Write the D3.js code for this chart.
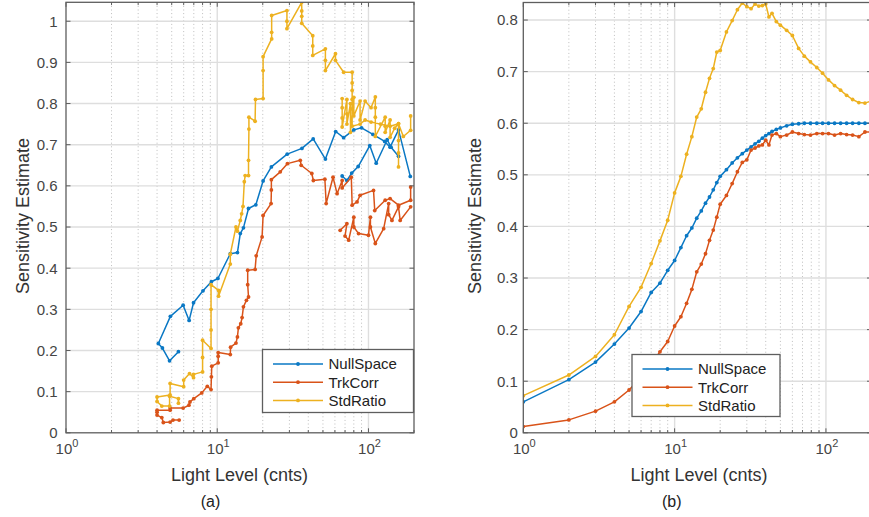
<!DOCTYPE html>
<html>
<head>
<meta charset="utf-8">
<script src="https://cdn.jsdelivr.net/npm/d3@7"></script>
<style>
  body { margin: 0; background: #fff; }
  svg { display: block; }
  text { font-family: "Liberation Sans", Arial, Helvetica, sans-serif; }
</style>
</head>
<body>
<svg id="chart" width="869" height="517"></svg>
<script>
// ---- Series names and colours ----
const seriesNames = ["NullSpace", "TrkCorr", "StdRatio"];
const seriesColors = ["#0a78c4", "#D95319", "#EDB120"];

// ---- Panel (a): measured estimates, [light level, estimate]; null breaks a run ----
const nullSpaceA = [
  [5.54,0.197],[4.84,0.175],[4.34,0.206],[4.08,0.217],[4.9,0.283],[5.95,0.310],[6.52,0.273],
  [6.97,0.316],[8.05,0.345],[9.15,0.367],[10.1,0.375],[12.2,0.435],[13.6,0.438],[14.2,0.484],
  [14.9,0.498],[16.1,0.545],[18.0,0.554],[20.1,0.612],[22.8,0.646],[29.0,0.677],[36.3,0.691],
  [43.1,0.714],[51.9,0.665],[60.7,0.732],[68.5,0.717],[80,0.736],[90,0.741],[107,0.725],
  [128,0.708],[139,0.694],[158,0.736],[189,0.623],
  null,
  [67,0.624],[72,0.613],[77.5,0.631],[85.5,0.647],[102,0.698],[112.5,0.655],[133,0.712],
  [141,0.694],[158,0.672]
];
const trkCorrA = [
  [5.6,0.031],[5.1,0.031],[4.88,0.026],[4.4,0.025],[4.3,0.037],[4.0,0.043],[4.0,0.05],[4.0,0.055],
  [4.88,0.055],[4.88,0.06],[5.95,0.06],[6.5,0.067],[6.6,0.075],[7.0,0.083],[7.9,0.097],[8.6,0.113],
  [9.1,0.105],[9.15,0.136],[9.2,0.162],[10.15,0.17],[10.15,0.186],[10.15,0.195],[12.2,0.19],
  [12.25,0.208],[13.3,0.218],[13.6,0.233],[13.8,0.255],[14.3,0.265],[14.6,0.28],[14.9,0.306],
  [15.6,0.322],[16.1,0.33],[15.9,0.36],[15.9,0.395],[17.8,0.397],[18.1,0.43],[19.8,0.476],
  [20.1,0.528],[22.7,0.557],[22.8,0.59],[22.8,0.615],[26.1,0.634],[29.1,0.654],[35.4,0.662],
  [35.9,0.65],[42.2,0.63],[43.2,0.613],[51.5,0.616],[52.5,0.557],[58.3,0.621],[62,0.581],
  [67,0.613],[67,0.595],[77,0.621],[78,0.553],[84,0.561],[88,0.577],[108,0.589],[110,0.540],
  [129,0.565],[139,0.569],[158,0.553],[190,0.565],[190,0.597],
  null,
  [65,0.492],[72,0.508],[70,0.478],[74,0.468],[80,0.524],[80,0.5],[86,0.484],[100,0.48],
  [103,0.524],[103,0.5],[111,0.46],[126,0.496],[136,0.557],[136,0.53],[143,0.516],[158,0.549],
  [162,0.516],[190,0.549]
];
const stdRatioA = [
  [5.54,0.072],[5.54,0.083],[4.84,0.089],[4.84,0.065],[4.3,0.065],[4.0,0.076],[4.0,0.087],
  [4.88,0.092],[4.88,0.12],[6.0,0.112],[6.0,0.128],[6.56,0.144],[6.97,0.134],[6.97,0.142],
  [8.0,0.148],[8.0,0.183],[8.0,0.225],[9.1,0.205],[9.1,0.25],[9.1,0.30],[9.1,0.36],[10.2,0.346],
  [10.2,0.332],[12.2,0.41],[12.2,0.434],[13.3,0.50],[13.6,0.49],[14.2,0.516],[14.5,0.532],
  [14.8,0.55],[15.1,0.61],[15.3,0.625],[16.1,0.625],[16.1,0.662],[16.2,0.738],[16.2,0.767],
  [17.8,0.757],[17.9,0.81],[20.1,0.812],[20.1,0.88],[20.1,0.914],[22.9,0.957],[22.9,0.973],
  [22.9,1.014],[28.9,1.026],[28.9,1.0],[28.9,0.982],[36.2,1.046],[36.2,1.025],[36.2,1.012],
  [36.2,0.995],[42.8,0.965],[42.8,0.94],[42.8,0.917],[51.9,0.933],[51.9,0.905],[51.9,0.88],
  [60.5,0.921],[60.5,0.905],[68.5,0.876],[78,0.876],[78,0.85],[78,0.832],[78,0.81],[78,0.787],
  [78,0.745],[88,0.75],[95,0.76],[104,0.755],[120,0.75],[139,0.745],[158,0.751],[170,0.72],
  [190,0.735],[190,0.77],
  null,
  [67,0.812],[67,0.79],[67,0.765],[67,0.743],[72,0.81],[72,0.775],[72,0.75],[76,0.80],[76,0.73],
  [80,0.815],[80,0.77],[88,0.806],[88,0.76],[95,0.806],[104,0.79],[111,0.816],[111,0.79],
  [111,0.767],[111,0.72],[129,0.767],[129,0.745],[129,0.73],[139,0.76],[139,0.718],[149,0.74],
  [158,0.751],[158,0.71],[158,0.68],[158,0.646]
];

// ---- Panel (b): simulated estimates on a common set of light levels ----
const levelsB = [1,2,3,4,5,6,7,8,9,10,11,12,13,14,15,16,17,18,19,20,22,24,26,28,30,32,34,36,38,40,
  42,44,47,50,55,60,66,72,79,87,95,104,114,125,137,150,165,181,200];
const nullSpaceB = [0.060,0.103,0.137,0.172,0.203,0.235,0.272,0.290,0.315,0.334,0.359,0.382,0.397,
  0.416,0.430,0.445,0.457,0.471,0.485,0.497,0.510,0.523,0.533,0.541,0.548,0.554,0.560,0.565,0.571,
  0.576,0.580,0.584,0.588,0.591,0.595,0.598,0.599,0.600,0.600,0.600,0.600,0.600,0.600,0.600,0.600,
  0.600,0.600,0.600,0.600];
const trkCorrB = [0.012,0.025,0.042,0.060,0.083,0.108,0.133,0.157,0.177,0.207,0.225,0.251,0.278,
  0.312,0.327,0.347,0.373,0.393,0.418,0.443,0.460,0.483,0.506,0.524,0.529,0.548,0.552,0.556,0.558,
  0.567,0.558,0.577,0.580,0.574,0.577,0.583,0.580,0.578,0.577,0.580,0.580,0.580,0.577,0.580,0.578,
  0.577,0.574,0.583,0.583];
const stdRatioB = [0.072,0.112,0.148,0.190,0.245,0.282,0.328,0.372,0.412,0.465,0.497,0.540,0.574,
  0.612,0.628,0.660,0.687,0.706,0.738,0.741,0.777,0.799,0.820,0.833,0.826,0.822,0.831,0.827,0.828,
  0.831,0.806,0.813,0.797,0.790,0.780,0.770,0.745,0.730,0.719,0.708,0.697,0.684,0.673,0.664,0.654,
  0.646,0.640,0.639,0.643];

// ---- Axis ticks ----
const levelDomain = [1, 200];
const levelMajorTicks = [1, 10, 100];
const levelTickExponents = ["0", "1", "2"];
const levelMinorTicks = [2,3,4,5,6,7,8,9,20,30,40,50,60,70,80,90,200];
const estimateTicksA = [0,0.1,0.2,0.3,0.4,0.5,0.6,0.7,0.8,0.9,1];
const estimateTicksB = [0,0.1,0.2,0.3,0.4,0.5,0.6,0.7,0.8];

const xTitle = "Light Level (cnts)";
const yTitle = "Sensitivity Estimate";

const svg = d3.select("#chart");
const axisColor = "#5e5e5e";
const tickTextColor = "#454545";

function pairsFromColumns(xs, ys) {
  return xs.map((x, i) => [x, ys[i]]);
}

const panels = [
  {
    key: "a", left: 66, right: 414, top: 2.3, bottom: 432.8, yMax: 1.046,
    yTicks: estimateTicksA, tickGap: 8.5, yTitleX: 29, xTitleX: 239.5, caption: "(a)", captionX: 210.5,
    series: [nullSpaceA, trkCorrA, stdRatioA],
    legend: { x: 262.5, y: 349.5, w: 151, h: 63 }
  },
  {
    key: "b", left: 523.3, right: 871.5, top: 2.5, bottom: 432.8, yMax: 0.834,
    yTicks: estimateTicksB, tickGap: 5.5, yTitleX: 480.5, xTitleX: 699, caption: "(b)", captionX: 671.7,
    series: [pairsFromColumns(levelsB, nullSpaceB), pairsFromColumns(levelsB, trkCorrB),
             pairsFromColumns(levelsB, stdRatioB)],
    legend: { x: 632, y: 354.5, w: 148, h: 62 }
  }
];

panels.forEach(p => {
  const x = d3.scaleLog().domain(levelDomain).range([p.left, p.right]);
  const y = d3.scaleLinear().domain([0, p.yMax]).range([p.bottom, p.top]);
  const g = svg.append("g").attr("class", "panel-" + p.key);

  g.append("clipPath").attr("id", "clip-" + p.key)
    .append("rect").attr("x", p.left).attr("y", p.top)
    .attr("width", p.right - p.left).attr("height", p.bottom - p.top);

  // minor grid (dotted, vertical)
  g.append("g").selectAll("line").data(levelMinorTicks.filter(v => v < levelDomain[1])).join("line")
    .attr("x1", d => x(d)).attr("x2", d => x(d))
    .attr("y1", p.top).attr("y2", p.bottom)
    .attr("stroke", "#bdbdbd").attr("stroke-width", 1)
    .attr("stroke-dasharray", "1,2.6");

  // major grid
  g.append("g").selectAll("line").data(levelMajorTicks.slice(1)).join("line")
    .attr("x1", d => x(d)).attr("x2", d => x(d))
    .attr("y1", p.top).attr("y2", p.bottom)
    .attr("stroke", "#dedede").attr("stroke-width", 1.4);
  g.append("g").selectAll("line").data(p.yTicks.slice(1)).join("line")
    .attr("x1", p.left).attr("x2", p.right)
    .attr("y1", d => y(d)).attr("y2", d => y(d))
    .attr("stroke", "#dedede").attr("stroke-width", 1.4);

  // series lines and dot markers
  const line = d3.line().defined(d => d !== null)
    .x(d => x(d[0])).y(d => y(d[1]));
  const plot = g.append("g").attr("clip-path", "url(#clip-" + p.key + ")");
  p.series.forEach((data, i) => {
    plot.append("path").datum(data)
      .attr("d", line).attr("fill", "none")
      .attr("stroke", seriesColors[i]).attr("stroke-width", 1.5)
      .attr("stroke-linejoin", "round");
    plot.append("g").selectAll("circle").data(data.filter(d => d !== null)).join("circle")
      .attr("cx", d => x(d[0])).attr("cy", d => y(d[1]))
      .attr("r", 1.9).attr("fill", seriesColors[i]);
  });

  // box
  g.append("rect").attr("x", p.left).attr("y", p.top)
    .attr("width", p.right - p.left).attr("height", p.bottom - p.top)
    .attr("fill", "none").attr("stroke", axisColor).attr("stroke-width", 1.3);

  // inward ticks on all four sides
  const ticks = g.append("g").attr("stroke", axisColor).attr("stroke-width", 1);
  const tl = 4.5, tm = 2.8;
  levelMajorTicks.forEach(v => {
    ticks.append("line").attr("x1", x(v)).attr("x2", x(v)).attr("y1", p.bottom).attr("y2", p.bottom - tl);
    ticks.append("line").attr("x1", x(v)).attr("x2", x(v)).attr("y1", p.top).attr("y2", p.top + tl);
  });
  levelMinorTicks.forEach(v => {
    ticks.append("line").attr("x1", x(v)).attr("x2", x(v)).attr("y1", p.bottom).attr("y2", p.bottom - tm);
    ticks.append("line").attr("x1", x(v)).attr("x2", x(v)).attr("y1", p.top).attr("y2", p.top + tm);
  });
  p.yTicks.forEach(v => {
    ticks.append("line").attr("x1", p.left).attr("x2", p.left + tl).attr("y1", y(v)).attr("y2", y(v));
    ticks.append("line").attr("x1", p.right).attr("x2", p.right - tl).attr("y1", y(v)).attr("y2", y(v));
  });

  // y tick labels
  g.append("g").selectAll("text").data(p.yTicks).join("text")
    .attr("x", p.left - p.tickGap).attr("y", d => y(d)).attr("dy", "0.36em")
    .attr("text-anchor", "end").attr("font-size", 15).attr("fill", tickTextColor)
    .text(d => String(d));

  // x tick labels as powers of ten
  levelMajorTicks.forEach((v, i) => {
    const t = g.append("text").attr("x", x(v) + 1).attr("y", p.bottom + 21)
      .attr("text-anchor", "middle").attr("font-size", 15).attr("fill", tickTextColor);
    t.append("tspan").text("10");
    t.append("tspan").attr("font-size", 11).attr("dy", -7).text(levelTickExponents[i]);
  });

  // axis titles
  g.append("text").attr("x", p.xTitleX).attr("y", 481)
    .attr("text-anchor", "middle").attr("font-size", 18).attr("fill", "#333")
    .text(xTitle);
  g.append("text").attr("transform", `translate(${p.yTitleX},216) rotate(-90)`)
    .attr("text-anchor", "middle").attr("font-size", 18).attr("fill", "#333")
    .text(yTitle);

  // caption
  g.append("text").attr("x", p.captionX).attr("y", 507)
    .attr("text-anchor", "middle").attr("font-size", 16).attr("fill", "#222")
    .attr("font-family", "'Open Sans', 'DejaVu Sans', sans-serif")
    .text(p.caption);

  // legend
  const L = p.legend;
  const lg = g.append("g");
  lg.append("rect").attr("x", L.x).attr("y", L.y).attr("width", L.w).attr("height", L.h)
    .attr("fill", "#fff").attr("stroke", axisColor).attr("stroke-width", 1.3);
  seriesNames.forEach((name, i) => {
    const cy = L.y + 14.5 + i * 18.2;
    lg.append("line").attr("x1", L.x + 10.5).attr("x2", L.x + 60.5).attr("y1", cy).attr("y2", cy)
      .attr("stroke", seriesColors[i]).attr("stroke-width", 1.5);
    lg.append("circle").attr("cx", L.x + 35.5).attr("cy", cy).attr("r", 1.9).attr("fill", seriesColors[i]);
    lg.append("text").attr("x", L.x + 66).attr("y", cy).attr("dy", "0.36em")
      .attr("font-size", 15).attr("fill", "#222").text(name);
  });
});
</script>
</body>
</html>
